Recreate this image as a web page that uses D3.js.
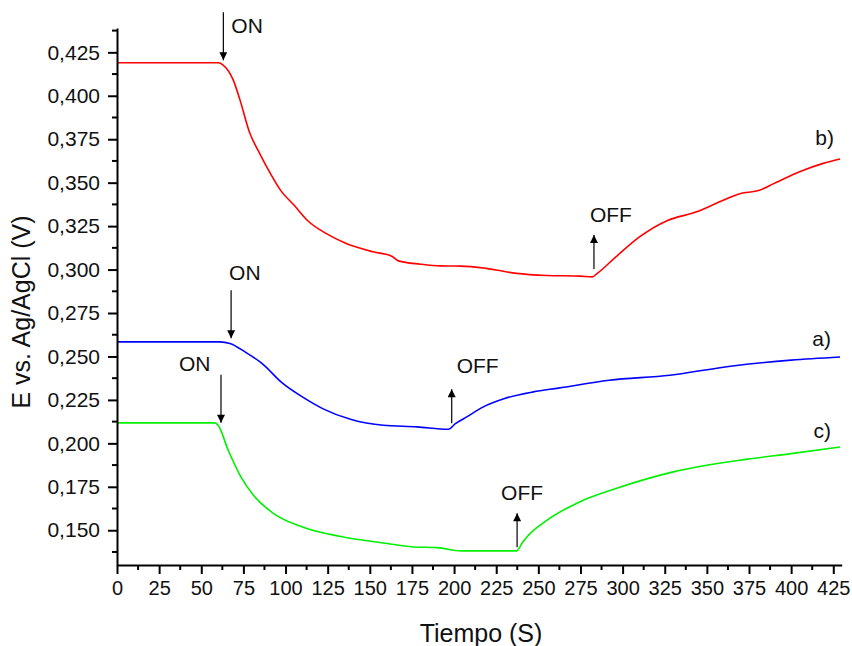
<!DOCTYPE html>
<html>
<head>
<meta charset="utf-8">
<script src="https://cdn.jsdelivr.net/npm/d3@7"></script>
<style>
  html, body { margin: 0; padding: 0; background: #fff; }
  svg { display: block; font-family: "Liberation Sans", Arial, sans-serif; }
</style>
</head>
<body>
<svg id="chart" width="852" height="646"></svg>
<script>
// Potential vs time, three runs (a, b, c) with illumination switched ON then OFF
const tA = [0, 61, 67, 76, 86, 98, 110, 122, 139, 158, 178, 196.6, 200.6, 207.5, 217.4, 230, 247, 262, 292, 328, 364, 400, 429];
const vA = [0.2584, 0.2584, 0.2575, 0.2526, 0.2460, 0.2348, 0.2267, 0.2200, 0.2137, 0.2104, 0.2095, 0.2081, 0.2112, 0.2152, 0.2210, 0.2258, 0.2296, 0.2318, 0.2363, 0.2392, 0.2444, 0.2479, 0.2497];

const tB = [0, 60, 63, 69, 73, 78.5, 85, 91, 97, 105, 113.5, 124, 136, 152, 163, 167, 180, 192, 204, 219, 237, 255, 275, 282, 285, 295, 310, 326, 344, 360, 370, 380, 390, 405, 419, 429];
const vB = [0.419, 0.419, 0.4177, 0.409, 0.3975, 0.3793, 0.3662, 0.3553, 0.3457, 0.3371, 0.3278, 0.3208, 0.3150, 0.3102, 0.3077, 0.3050, 0.3031, 0.3021, 0.3020, 0.3007, 0.2978, 0.2966, 0.2962, 0.2958, 0.2978, 0.3064, 0.3188, 0.3280, 0.3332, 0.3400, 0.3438, 0.3453, 0.3496, 0.3563, 0.3611, 0.3636];

const tC = [0, 58, 60, 66, 73.5, 81, 93, 110, 132, 158, 176, 190, 204, 237, 240.6, 244, 255, 274.5, 296, 330, 374, 400, 429];
const vC = [0.2118, 0.2118, 0.2104, 0.1960, 0.1807, 0.1701, 0.1596, 0.1519, 0.1465, 0.1427, 0.1404, 0.1400, 0.1381, 0.1381, 0.1430, 0.1470, 0.1557, 0.1663, 0.1740, 0.1836, 0.1909, 0.1941, 0.1979];

const seriesNames = ["a)", "b)", "c)"];
const seriesColors = ["#0000ff", "#ff0000", "#00f000"];

// Switching events: time of the event and the potential at the arrow tip
const onTimes  = [67.7, 63.1, 61.7];
const onTips   = [0.2605, 0.4205, 0.2118];
const offTimes = [198.6, 283, 237.4];
const offTips  = [0.2312, 0.3199, 0.1598];

const xTicks = d3.range(0, 426, 25);
const yTicks = d3.range(0.150, 0.4251, 0.025);
const xMinor = d3.range(12.5, 430, 25);
const yMinor = d3.range(0.1375, 0.439, 0.025);

const xLabel = "Tiempo (S)";
const yLabel = "E vs. Ag/AgCl (V)";

const svg = d3.select("#chart");
const x = d3.scaleLinear().domain([0, 430]).range([117, 841.7]);
const y = d3.scaleLinear().domain([0.13, 0.439]).range([565, 28]);

const fmtY = v => d3.format(".3f")(v).replace(".", ",");

// Lines
const line = d3.line().x(d => x(d[0])).y(d => y(d[1])).curve(d3.curveMonotoneX);
const series = [[tA, vA], [tB, vB], [tC, vC]];
series.forEach(([ts, vs], i) => {
  svg.append("path")
    .datum(ts.map((t, k) => [t, vs[k]]))
    .attr("fill", "none")
    .attr("stroke", seriesColors[i])
    .attr("stroke-width", 1.6)
    .attr("stroke-linejoin", "round")
    .attr("d", line);
});

// Axes
const xAxis = svg.append("g").attr("transform", `translate(0,${y.range()[0]})`)
  .call(d3.axisBottom(x).tickValues(xTicks).tickSize(9).tickSizeOuter(0).tickPadding(7).tickFormat(d3.format("d")));
const yAxis = svg.append("g").attr("transform", `translate(${x.range()[0]},0)`)
  .call(d3.axisLeft(y).tickValues(yTicks).tickSize(9).tickSizeOuter(0).tickPadding(8).tickFormat(fmtY));

xAxis.append("g").selectAll("line").data(xMinor).join("line")
  .attr("x1", d => x(d)).attr("x2", d => x(d)).attr("y1", 0).attr("y2", 5);
yAxis.append("g").selectAll("line").data(yMinor).join("line")
  .attr("y1", d => y(d)).attr("y2", d => y(d)).attr("x1", 0).attr("x2", -5);

[xAxis, yAxis].forEach(g => {
  g.select(".domain").attr("stroke", "#000").attr("stroke-width", 2);
  g.selectAll("line").attr("stroke", "#000").attr("stroke-width", 2);
  g.selectAll("text").attr("fill", "#111")
    .attr("font-family", "'Liberation Sans', Arial, sans-serif");
});
xAxis.selectAll("text").attr("font-size", 20);
yAxis.selectAll("text").attr("font-size", 21);

// Axis titles
svg.append("text").attr("x", 481).attr("y", 642).attr("text-anchor", "middle")
  .attr("font-size", 25).attr("fill", "#111").text(xLabel);
svg.append("text").attr("transform", "translate(30,312) rotate(-90)").attr("text-anchor", "middle")
  .attr("font-size", 25).attr("fill", "#111").text(yLabel);

// Arrow heads
svg.append("defs").append("marker")
  .attr("id", "head").attr("viewBox", "0 0 10 10").attr("refX", 10).attr("refY", 5)
  .attr("markerUnits", "userSpaceOnUse").attr("markerWidth", 13).attr("markerHeight", 8)
  .attr("orient", "auto")
  .append("path").attr("d", "M0,0 L10,5 L0,10 Z").attr("fill", "#000");

const arrow = (tx, tip, len, dir) => {
  const px = x(tx), py = y(tip);
  svg.append("line")
    .attr("x1", px).attr("x2", px)
    .attr("y1", py - dir * len).attr("y2", py)
    .attr("stroke", "#000").attr("stroke-width", 1.2)
    .attr("marker-end", "url(#head)");
};
const label = (px, py, txt, anchor) => svg.append("text")
  .attr("x", px).attr("y", py).attr("text-anchor", anchor || "start")
  .attr("font-size", 21).attr("fill", "#111").text(txt);

// ON arrows point down onto the curve, OFF arrows point up from it
onTimes.forEach((t, i) => arrow(t, onTips[i], 48, 1));
offTimes.forEach((t, i) => arrow(t, offTips[i], 34, -1));

// ON labels
label(x(onTimes[1]) + 8, y(onTips[1]) - 27, "ON");
label(x(onTimes[0]) - 2, y(onTips[0]) - 58, "ON");
label(x(onTimes[2]) - 42, y(onTips[2]) - 52, "ON");
// OFF labels
label(x(offTimes[1]) - 4, y(offTips[1]) - 13, "OFF");
label(x(offTimes[0]) + 5, y(offTips[0]) - 16, "OFF");
label(x(offTimes[2]) - 16, y(offTips[2]) - 13, "OFF");

// Series labels at the right end
label(834, 145, seriesNames[1], "end");
label(831, 346, seriesNames[0], "end");
label(831, 438, seriesNames[2], "end");
</script>
</body>
</html>
